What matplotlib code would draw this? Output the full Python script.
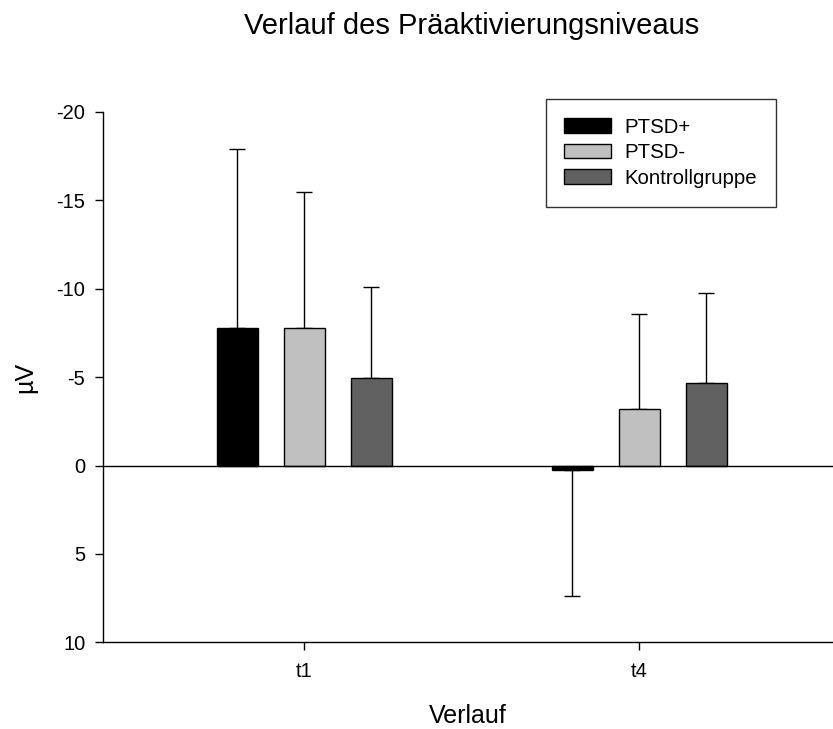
import numpy as np
import matplotlib
matplotlib.use("Agg")
import matplotlib.pyplot as plt

plt.rcParams['font.family'] = ['Liberation Sans', 'DejaVu Sans']
plt.rcParams['axes.unicode_minus'] = False

# Mittelwerte (µV) und Standardabweichungen je Zeitpunkt
zeitpunkte = ['t1', 't4']
gruppen = ['PTSD+', 'PTSD-', 'Kontrollgruppe']
ptsd_plus = [-7.78, 0.28]
ptsd_plus_sd = [10.11, 7.10]
ptsd_minus = [-7.80, -3.21]
ptsd_minus_sd = [7.70, 5.34]
kontrolle = [-4.93, -4.67]
kontrolle_sd = [5.15, 5.07]

farben = ['#000000', '#c0c0c0', '#606060']
werte = [ptsd_plus, ptsd_minus, kontrolle]
sds = [ptsd_plus_sd, ptsd_minus_sd, kontrolle_sd]

fig = plt.figure(figsize=(8.33, 7.29), dpi=100)
ax = fig.add_axes([0.1233, 0.1189, 0.8767, 0.7275])

x = np.arange(len(zeitpunkte))
breite = 0.1224
abstand = 0.2

for i, (name, w, sd, col) in enumerate(zip(gruppen, werte, sds, farben)):
    pos = x + (i - 1) * abstand
    w = np.array(w)
    sd = np.array(sd)
    # Fehlerbalken nur in Richtung weg von der Null
    unten = np.where(w < 0, sd, 0)
    oben = np.where(w >= 0, sd, 0)
    ax.errorbar(pos, w, yerr=[unten, oben], fmt='none', ecolor='black',
                elinewidth=1.0, capsize=5.8, capthick=1.0, zorder=1)
    ax.bar(pos, w, width=breite, color=col, edgecolor='black',
           linewidth=1.0, label=name, zorder=2)

ax.axhline(0, color='black', linewidth=1.0, zorder=3)

ax.set_xlim(-0.601, 1.579)
ax.set_ylim(10, -20)
ax.set_yticks([-20, -15, -10, -5, 0, 5, 10])
ax.set_xticks(x)
ax.set_xticklabels(zeitpunkte)

for s in ['top', 'right']:
    ax.spines[s].set_visible(False)
for s in ['left', 'bottom']:
    ax.spines[s].set_linewidth(1.0)

ax.tick_params(axis='both', direction='out', length=5.5, width=1.0, labelsize=14.5)
ax.tick_params(axis='y', pad=7)
ax.tick_params(axis='x', pad=9)

ax.set_xlabel('Verlauf', fontsize=18, labelpad=16)
ax.set_ylabel('µV', fontsize=18, labelpad=14)
ax.set_title('Verlauf des Präaktivierungsniveaus', fontsize=21, pad=56, x=0.5055)

leg = ax.legend(loc='upper right', bbox_to_anchor=(0.9316, 0.8642),
                bbox_transform=fig.transFigure, fontsize=14.7, frameon=True,
                fancybox=False, edgecolor='black', handlelength=2.3,
                handleheight=0.72, labelspacing=0.32, borderpad=0.92,
                handletextpad=0.65, borderaxespad=0)
leg.get_frame().set_linewidth(1.0)

fig.savefig('out.png', dpi=100)
